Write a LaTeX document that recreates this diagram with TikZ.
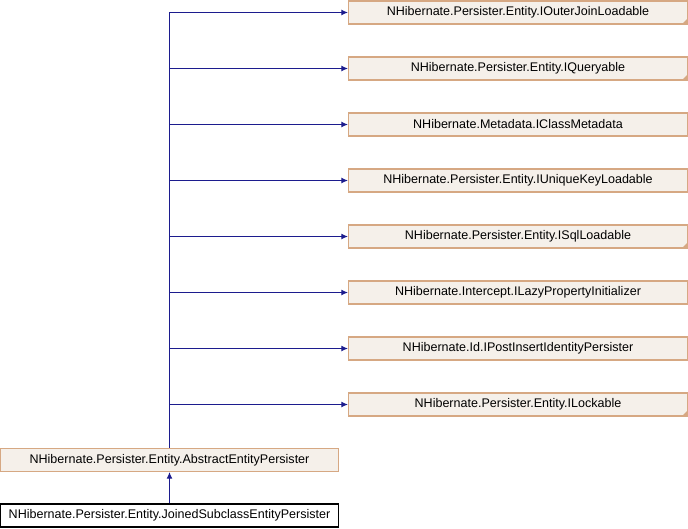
\documentclass[tikz,border=0pt]{standalone}
\usepackage{fontspec}
\setmainfont{Liberation Sans}
\usetikzlibrary{arrows.meta}
\definecolor{boxfill}{HTML}{F5F0EA}
\definecolor{boxline}{HTML}{D6A883}
\definecolor{edgecol}{HTML}{1C1C8E}
\tikzset{
  px/.style={x=0.75pt,y=-0.75pt},
  ibox/.style={draw=boxline,fill=boxfill,line width=0.8pt,minimum width=254.25pt,minimum height=17.25pt,inner sep=0pt,font=\fontsize{9.4}{11}\selectfont},
  lbox/.style={ibox,minimum width=253.5pt},
  curbox/.style={lbox,draw=black,fill=white},
  edge/.style={draw=edgecol,line width=0.8pt,-{Latex[length=5pt,width=4.5pt]}},
}
\newcommand{\foldcorner}[1]{\fill[boxline] ([xshift=-0.4pt,yshift=0.4pt]#1.south east) -- ++(0,4pt) -- ++(-4pt,-4pt) -- cycle;}
\begin{document}
\begin{tikzpicture}[px]
\useasboundingbox (0,0) rectangle (688,528);
\node[ibox] (i1) at (518,12.5) {NHibernate.Persister.Entity.IOuterJoinLoadable};
\node[ibox] (i2) at (518,68.5) {NHibernate.Persister.Entity.IQueryable};
\node[ibox] (i3) at (518,124.5) {NHibernate.Metadata.IClassMetadata};
\node[ibox] (i4) at (518,180.5) {NHibernate.Persister.Entity.IUniqueKeyLoadable};
\node[ibox] (i5) at (518,236.5) {NHibernate.Persister.Entity.ISqlLoadable};
\node[ibox] (i6) at (518,292.5) {NHibernate.Intercept.ILazyPropertyInitializer};
\node[ibox] (i7) at (518,348.5) {NHibernate.Id.IPostInsertIdentityPersister};
\node[ibox] (i8) at (518,404.5) {NHibernate.Persister.Entity.ILockable};
\foldcorner{i1}
\foldcorner{i2}
\foldcorner{i5}
\foldcorner{i8}
\node[lbox] (abs) at (169.5,460) {NHibernate.Persister.Entity.AbstractEntityPersister};
\node[curbox] (cur) at (169.5,515.5) {NHibernate.Persister.Entity.JoinedSubclassEntityPersister};
\foreach \t in {i1,i2,i3,i4,i5,i6,i7,i8}{
  \draw[edge] (abs.north) |- (\t.west);
}
\draw[edge] (cur.north) -- (abs.south);
\end{tikzpicture}
\end{document}
